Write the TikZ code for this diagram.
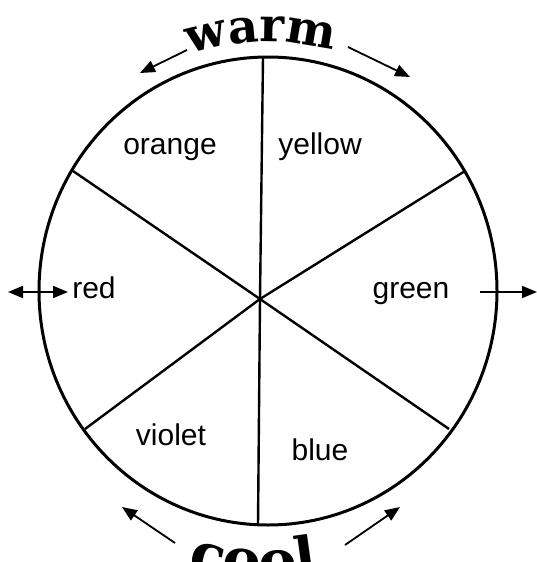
\documentclass[tikz,border=0pt]{standalone}
\usepackage{fontspec}
\setmainfont{Liberation Sans}
\newfontfamily\slabfont{DejaVu Serif}
\usetikzlibrary{arrows.meta,decorations.text}

\begin{document}
\begin{tikzpicture}[x=1pt, y=-1pt, every node/.style={font=\fontsize{30}{36}\selectfont, inner sep=0pt}, rim/.style={line width=3pt}, spoke/.style={line width=2.4pt}, arr/.style={-{Triangle[length=15pt,width=12pt]}, line width=1.8pt}, arrboth/.style={{Triangle[length=15pt,width=12pt]}-{Triangle[length=15pt,width=12pt]}, line width=1.8pt}]
\useasboundingbox (0,0) rectangle (537,562);
\coordinate (o) at (268,291);\coordinate (hub) at (260,299);
\draw[rim] (o) ellipse [x radius=229, y radius=234];
% rim points of the six spokes
\coordinate (t) at (263,57);\coordinate (b) at (258,525);
\coordinate (ul) at (73,171);\coordinate (ur) at (465,171);
\coordinate (ll) at (85,429);\coordinate (lr) at (449,429);
\foreach \p in {t,b,ul,ur,ll,lr} \draw[spoke] (hub) -- (\p);
% colour names
\node[anchor=base] (orange) at (170,154) {orange};\node[anchor=base] (yellow) at (320,154) {yellow};
\node[anchor=base] (red) at (94,298) {red};\node[anchor=base] (green) at (411,298) {green};
\node[anchor=base] (violet) at (171,445) {violet};\node[anchor=base] (blue) at (320,460) {blue};
% warm and cool along arcs
\path[decorate, decoration={text along path, text format delimiters={|}{|}, text={|\slabfont\bfseries\fontsize{47}{52}\selectfont|warm}, text align=center}] (o) ++(243:249) arc[start angle=243, end angle=294, radius=249];
\path[decorate, decoration={text along path, text format delimiters={|}{|}, text={|\slabfont\bfseries\fontsize{57}{60}\selectfont|cool}, text align=center}] (o) ++(118:290) arc[start angle=118, end angle=68, radius=290];
% arrows
\coordinate (wl0) at (187,50);\coordinate (wl1) at (140,73);
\coordinate (wr0) at (348,47);\coordinate (wr1) at (410,77);
\coordinate (cl0) at (175,543);\coordinate (cl1) at (122,507);
\coordinate (cr0) at (345,545);\coordinate (cr1) at (400,507);
\coordinate (rl) at (8,292);\coordinate (rr) at (68,292);
\coordinate (g0) at (480,292);\coordinate (g1) at (537,292);
\draw[arr] (wl0) -- (wl1);\draw[arr] (wr0) -- (wr1);
\draw[arr] (cl0) -- (cl1);\draw[arr] (cr0) -- (cr1);
\draw[arrboth] (rl) -- (rr);\draw[arr] (g0) -- (g1);
\end{tikzpicture}
\end{document}
